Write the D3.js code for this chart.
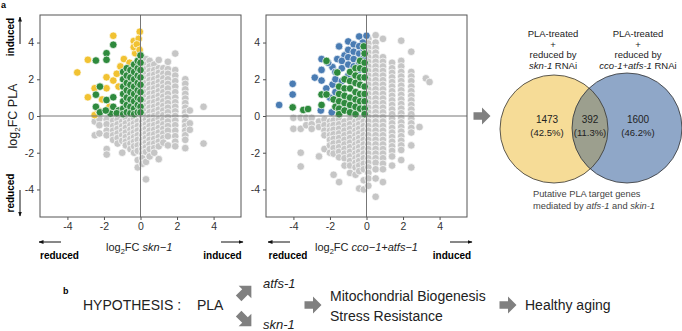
<!DOCTYPE html>
<html>
<head>
<meta charset="utf-8">
<script src="https://cdn.jsdelivr.net/npm/d3@7"></script>
<style>
  body { margin: 0; background: #fff; }
  svg { display: block; font-family: "Liberation Sans", Arial, sans-serif; }
</style>
</head>
<body>
<div id="chart"></div>
<script>
// ---- data ----
var ticks = [-4, -2, 0, 2, 4];

// panel 1: log2FC skn-1 vs log2FC PLA  (gray columns: [x, [y...]])
var gray1 = [
  [-2.5, [0.0, -0.3, -1.05]],
  [-2.25, [-0.15, -0.5, -0.95]],
  [-1.85, [-0.2, -0.45, -0.8, -1.05, -1.8, -2.1]],
  [-1.5, [-0.25, -0.55, -0.8, -1.05, -1.3]],
  [-1.25, [-0.2, -0.45, -0.7, -0.95, -1.2, -1.5]],
  [-1.0, [-0.3, -0.55, -0.8, -1.05, -1.35, -2.0]],
  [-0.8, [-0.15, -0.4, -0.65, -0.9, -1.15, -1.4, -1.6]],
  [-0.55, [-0.25, -0.5, -0.75, -1.0, -1.25, -1.5, -1.8]],
  [-0.35, [-0.15, -0.4, -0.65, -0.9, -1.15, -1.4, -1.65, -2.0]],
  [-0.15, [-0.3, -0.55, -0.8, -1.05, -1.3, -1.6, -1.9, -2.4, -2.8]],
  [0.1, [3.2, 2.95, 2.7, 2.45, 2.2, 1.95, 1.7, 1.45, 1.2, 0.95, 0.7, 0.45, 0.2, -0.05, -0.3, -0.55, -0.8, -1.05, -1.3, -1.55, -1.8, -2.05, -2.3, -2.6]],
  [0.3, [3.1, 2.8, 2.55, 2.3, 2.05, 1.8, 1.55, 1.3, 1.05, 0.8, 0.55, 0.3, 0.05, -0.2, -0.45, -0.7, -0.95, -1.2, -1.45, -1.7, -1.95, -2.5, -3.45]],
  [0.5, [3.0, 2.7, 2.45, 2.2, 1.95, 1.7, 1.45, 1.2, 0.95, 0.7, 0.45, 0.2, -0.05, -0.3, -0.55, -0.8, -1.05, -1.3, -1.55, -1.8, -2.2]],
  [0.75, [2.8, 2.5, 2.25, 2.0, 1.75, 1.5, 1.25, 1.0, 0.75, 0.5, 0.25, 0.0, -0.25, -0.5, -0.75, -1.0, -1.25, -1.5, -1.75, -2.0]],
  [1.0, [3.05, 2.6, 2.35, 2.1, 1.85, 1.6, 1.35, 1.1, 0.85, 0.6, 0.35, 0.1, -0.15, -0.4, -0.65, -0.9, -1.15, -1.4, -1.65, -2.35]],
  [1.25, [2.6, 2.3, 2.05, 1.8, 1.55, 1.3, 1.05, 0.8, 0.55, 0.3, 0.05, -0.2, -0.45, -0.7, -0.95, -1.2, -1.45]],
  [1.5, [2.95, 2.55, 2.3, 2.0, 1.75, 1.5, 1.2, 0.95, 0.7, 0.45, 0.2, -0.05, -0.3, -0.55, -0.8, -1.1, -1.6]],
  [1.9, [3.4, 2.5, 2.2, 1.9, 1.6, 1.3, 1.0, 0.75, 0.5, 0.25, 0.0, -0.25, -0.5, -0.8, -1.1, -1.4, -1.65]],
  [2.45, [2.0, 1.75, 1.45, 1.2, 0.95, 0.7, 0.45, 0.2, -0.05, -0.3, -0.55, -0.8, -1.05, -1.3, -1.75]],
  [2.7, [0.3, -0.4, -0.75]],
  [3.45, [0.5, -1.5]]
];
var yellow1 = [
  [-3.46, 2.37], [-2.88, 3.06], [-2.88, 1.02], [-1.49, 4.37], [-0.04, 4.59], [-0.37, 4.08],
  [-0.91, 3.1], [-1.86, 2.11], [-1.49, 1.93], [-1.86, 1.51], [-2.51, 1.51], [-2.51, 0.05],
  [-0.29, 3.42], [-0.37, 3.75], [-0.1, 4.2], [-0.2, 3.9], [-1.1, 2.7], [-1.3, 2.3],
  [-0.6, 2.9], [-2.3, 0.3], [-1.7, 0.5], [-2.1, 0.9], [-1.2, 1.6], [-0.05, 3.6]
];
var green1 = [
  [-1.49, 3.88], [-1.86, 3.42], [-1.86, 3.06], [-2.44, 3.02], [-2.22, 1.6], [-2.44, 1.16],
  [-1.86, 0.87], [-2.44, 0.5], [-1.49, 1.02], [-2.22, 0.2], [-1.64, 0.13], [-1.49, 0.5],
  [-1.2, 0.3], [-1.9, 0.3], [-1.3, 0.15],
  [-0.95, 2.4], [-0.95, 2.0], [-0.95, 1.6], [-0.95, 1.2], [-0.95, 0.8], [-0.95, 0.4], [-0.95, 0.1],
  [-0.75, 2.6], [-0.75, 2.2], [-0.75, 1.8], [-0.75, 1.4], [-0.75, 1.0], [-0.75, 0.6], [-0.75, 0.2],
  [-0.55, 2.5], [-0.55, 2.1], [-0.55, 1.7], [-0.55, 1.3], [-0.55, 0.9], [-0.55, 0.5], [-0.55, 0.15],
  [-0.35, 2.8], [-0.35, 2.4], [-0.35, 2.0], [-0.35, 1.6], [-0.35, 1.2], [-0.35, 0.8], [-0.35, 0.4], [-0.35, 0.1],
  [-0.15, 3.0], [-0.15, 2.6], [-0.15, 2.2], [-0.15, 1.8], [-0.15, 1.4], [-0.15, 1.0], [-0.15, 0.6], [-0.15, 0.2],
  [0, 3.3], [0, 2.9], [0, 2.5], [0, 2.1], [0, 1.7], [0, 1.3], [0, 0.9], [0, 0.5], [0, 0.2]
];

// panel 2: log2FC cco-1+atfs-1 vs log2FC PLA
var gray2 = [
  [-4.0, [-0.1, -0.7]],
  [-3.6, [-0.1, -0.7, -2.0, -2.75]],
  [-3.3, [-0.1, -0.5]],
  [-3.0, [-0.1, -0.45, -0.7]],
  [-2.6, [-0.3, -0.6, -2.2]],
  [-2.3, [-0.2, -0.5, -0.8, -1.05, -1.8]],
  [-2.0, [-0.3, -0.55, -0.8, -1.05, -1.3, -1.6, -2.0]],
  [-1.8, [-0.25, -0.5, -0.75, -1.0, -1.25, -1.5, -1.75, -2.05, -3.2]],
  [-1.5, [-0.2, -0.45, -0.7, -0.95, -1.2, -1.45, -1.7, -1.95, -2.25, -3.6]],
  [-1.2, [-0.3, -0.55, -0.8, -1.05, -1.3, -1.55, -1.8, -2.05, -2.3, -2.7]],
  [-0.9, [-0.2, -0.45, -0.7, -0.95, -1.2, -1.45, -1.7, -1.95, -2.2, -2.45, -2.7, -3.1]],
  [-0.6, [-0.3, -0.55, -0.8, -1.05, -1.3, -1.55, -1.8, -2.05, -2.3, -2.55, -2.8, -3.2]],
  [-0.4, [-0.2, -0.45, -0.7, -0.95, -1.2, -1.45, -1.7, -1.95, -2.2, -2.45, -2.7, -3.0, -3.95]],
  [-0.15, [-0.3, -0.55, -0.8, -1.05, -1.3, -1.55, -1.8, -2.05, -2.3, -2.6, -2.9, -3.5, -4.0]],
  [0.1, [4.2, 3.95, 3.7, 3.45, 3.2, 2.95, 2.7, 2.45, 2.2, 1.95, 1.7, 1.45, 1.2, 0.95, 0.7, 0.45, 0.2, -0.05, -0.3, -0.55, -0.8, -1.05, -1.3, -1.55, -1.8, -2.05, -2.3, -2.55, -2.8, -3.1, -3.4, -3.8]],
  [0.5, [4.4, 4.0, 3.7, 3.45, 3.2, 2.95, 2.7, 2.45, 2.2, 1.95, 1.7, 1.45, 1.2, 0.95, 0.7, 0.45, 0.2, -0.05, -0.3, -0.55, -0.8, -1.05, -1.3, -1.55, -1.8, -2.05, -2.3, -2.55, -2.9, -3.4, -4.4]],
  [0.9, [4.2, 3.2, 2.95, 2.7, 2.45, 2.2, 1.95, 1.7, 1.45, 1.2, 0.95, 0.7, 0.45, 0.2, -0.05, -0.3, -0.55, -0.8, -1.05, -1.3, -1.55, -1.8, -2.05, -2.3, -2.6, -2.9, -3.6]],
  [1.4, [2.9, 2.6, 2.35, 2.1, 1.85, 1.6, 1.35, 1.1, 0.85, 0.6, 0.35, 0.1, -0.15, -0.4, -0.65, -0.9, -1.15, -1.4, -1.65, -1.9, -2.2, -2.7]],
  [1.9, [4.1, 3.0, 2.7, 2.4, 2.15, 1.9, 1.65, 1.4, 1.15, 0.9, 0.65, 0.4, 0.15, -0.1, -0.35, -0.6, -0.85, -1.1, -1.35, -1.6, -1.85, -2.4]],
  [2.45, [3.5, 2.4, 2.15, 1.9, 1.6, 1.35, 1.1, 0.85, 0.6, 0.35, 0.1, -0.15, -0.4, -0.65, -0.9, -1.6, -2.8]],
  [2.9, [-0.6]],
  [3.25, [2.05]],
  [3.45, [1.85]]
];
var blue2 = [
  [-4.78, 0.6], [-4.04, 1.75], [-4.04, 1.17], [-2.46, 3.1], [-2.83, 2.09], [-2.46, 2.51],
  [-2.46, 1.93], [-1.86, 2.66], [-1.5, 3.79], [-1.0, 4.06], [-0.4, 4.33], [0, 4.37],
  [-1.86, 1.71], [-2.2, 1.5], [-2.0, 1.0], [-1.2, 3.3], [-0.7, 3.9], [-0.2, 4.0],
  [-1.6, 3.1], [-2.1, 2.9], [-2.5, 0.3], [-1.9, 0.2],
  [-1.7, 2.4], [-1.7, 2.0], [-1.7, 1.3], [-1.7, 0.5],
  [-1.35, 3.0], [-1.35, 2.6], [-1.35, 1.9], [-1.35, 0.4],
  [-1.0, 3.6], [-1.0, 3.2], [-1.0, 2.8], [-1.0, 2.2], [-1.0, 0.3],
  [-0.7, 3.5], [-0.7, 3.1], [-0.7, 2.7], [-0.7, 2.3],
  [-0.4, 3.8], [-0.4, 3.4], [-0.4, 2.9], [-0.4, 2.5],
  [-0.15, 3.6], [-0.15, 3.2], [-0.15, 2.7], [-0.15, 1.0]
];
var green2 = [
  [-4.04, 0.47], [-3.46, 0.33], [-3.2, 0.38], [-2.46, 0.6], [-2.19, 3.0], [-2.46, 1.17],
  [-2.19, 1.17], [-1.6, 2.37], [-0.15, 3.79], [-1.8, 0.9], [-1.7, 0.5],
  [-1.5, 1.6], [-1.5, 1.2], [-1.5, 0.8], [-1.5, 0.4], [-1.5, 0.1],
  [-1.2, 2.0], [-1.2, 1.5], [-1.2, 1.1], [-1.2, 0.7], [-1.2, 0.3],
  [-0.9, 2.4], [-0.9, 1.9], [-0.9, 1.5], [-0.9, 1.0], [-0.9, 0.6], [-0.9, 0.2],
  [-0.6, 2.6], [-0.6, 2.2], [-0.6, 1.8], [-0.6, 1.3], [-0.6, 0.9], [-0.6, 0.5], [-0.6, 0.1],
  [-0.35, 3.0], [-0.35, 2.6], [-0.35, 2.1], [-0.35, 1.7], [-0.35, 1.2], [-0.35, 0.8], [-0.35, 0.4],
  [-0.1, 3.4], [-0.1, 2.9], [-0.1, 2.5], [-0.1, 2.1], [-0.1, 1.6], [-0.1, 1.2], [-0.1, 0.8], [-0.1, 0.4], [-0.1, 0.1]
];

// venn
var vennCounts = [1473, 392, 1600];
var vennPcts = ["(42.5%)", "(11.3%)", "(46.2%)"];

// ---- drawing ----
var W = 682, H = 331;
var svg = d3.select("#chart").append("svg").attr("width", W).attr("height", H);

var cGray = "#c6c6c6", cYellow = "#f1c232", cGreen = "#2e8a3d", cBlue = "#4a7cb3";

function flatCols(cols) {
  var out = [];
  cols.forEach(function(c) { c[1].forEach(function(v) { out.push([c[0], v]); }); });
  return out;
}

function drawPanel(left, right, grayCols, layers) {
  var x = d3.scaleLinear().domain([-5.5, 5.5]).range([left, right]);
  var y = d3.scaleLinear().domain([-5.5, 5.5]).range([217, 15]);
  var g = svg.append("g");

  var xa = g.append("g").attr("transform", "translate(0,217)")
    .call(d3.axisBottom(x).tickValues(ticks).tickSize(3).tickFormat(function(d) { return String(d); }));
  var ya = g.append("g").attr("transform", "translate(" + left + ",0)")
    .call(d3.axisLeft(y).tickValues(ticks).tickSize(3).tickFormat(function(d) { return String(d); }));
  [xa, ya].forEach(function(a) {
    a.select(".domain").remove();
    a.selectAll("line").attr("stroke", "#555");
    a.selectAll("text").attr("fill", "#333").style("font-size", "10.5px")
      .style("font-family", "Liberation Sans, Arial, sans-serif");
  });

  var all = [{ pts: flatCols(grayCols), col: cGray }].concat(layers);
  all.forEach(function(l) {
    g.append("g").selectAll("circle").data(l.pts).enter().append("circle")
      .attr("cx", function(d) { return x(d[0]); })
      .attr("cy", function(d) { return y(d[1]); })
      .attr("r", 3.8)
      .attr("fill", l.col)
      .attr("stroke", "#fff")
      .attr("stroke-width", 0.7);
  });

  // zero lines
  g.append("line").attr("x1", left).attr("x2", right).attr("y1", y(0)).attr("y2", y(0))
    .attr("stroke", "#777").attr("stroke-width", 1);
  g.append("line").attr("x1", x(0)).attr("x2", x(0)).attr("y1", 15).attr("y2", 217)
    .attr("stroke", "#777").attr("stroke-width", 1);
  g.append("rect").attr("x", left).attr("y", 15).attr("width", right - left).attr("height", 202)
    .attr("fill", "none").attr("stroke", "#555").attr("stroke-width", 1);
}

drawPanel(40, 241, gray1, [{ pts: yellow1, col: cYellow }, { pts: green1, col: cGreen }]);
drawPanel(266, 467, gray2, [{ pts: blue2, col: cBlue }, { pts: green2, col: cGreen }]);

// arrow marker
var defs = svg.append("defs");
defs.append("marker").attr("id", "ah").attr("viewBox", "0 0 10 10")
  .attr("refX", 9).attr("refY", 5).attr("markerWidth", 5).attr("markerHeight", 5)
  .attr("orient", "auto")
  .append("path").attr("d", "M0,1 L10,5 L0,9 Z").attr("fill", "#111");

function thinArrow(x1, y1, x2, y2) {
  svg.append("line").attr("x1", x1).attr("y1", y1).attr("x2", x2).attr("y2", y2)
    .attr("stroke", "#111").attr("stroke-width", 1).attr("marker-end", "url(#ah)");
}

// label "a"
svg.append("text").attr("x", 1).attr("y", 8).text("a")
  .style("font-size", "9px").style("font-weight", "bold");

// y axis title panel 1
var yt = svg.append("text").attr("transform", "translate(17,116) rotate(-90)")
  .attr("text-anchor", "middle").style("font-size", "12.5px").attr("fill", "#222");
yt.append("tspan").text("log");
yt.append("tspan").text("2").attr("dy", 3).style("font-size", "8px");
yt.append("tspan").text("FC PLA").attr("dy", -3);

svg.append("text").attr("transform", "translate(14,37) rotate(-90)").attr("text-anchor", "middle")
  .style("font-size", "10px").style("font-weight", "bold").text("induced");
thinArrow(20, 44, 20, 17);
svg.append("text").attr("transform", "translate(14,193) rotate(-90)").attr("text-anchor", "middle")
  .style("font-size", "10px").style("font-weight", "bold").text("reduced");
thinArrow(20, 190, 20, 216);

// x axis titles
function xTitle(xpos, gene) {
  var t = svg.append("text").attr("x", xpos).attr("y", 251).style("font-size", "11px").attr("fill", "#222");
  t.append("tspan").text("log");
  t.append("tspan").text("2").attr("dy", 3).style("font-size", "7.5px");
  t.append("tspan").text("FC ").attr("dy", -3);
  t.append("tspan").text(gene).style("font-style", "italic");
}
xTitle(106, "skn\u22121");
xTitle(315, "cco\u22121+atfs\u22121");

function sideLabel(x0, x1, txt, dir) {
  svg.append("text").attr("x", (x0 + x1) / 2).attr("y", 259).attr("text-anchor", "middle")
    .style("font-size", "10px").style("font-weight", "bold").text(txt);
  if (dir < 0) thinArrow(x0 + 22, 242, x0, 242);
  else thinArrow(x1 - 22, 242, x1, 242);
}
sideLabel(39, 80, "reduced", -1);
sideLabel(202, 243, "induced", 1);
sideLabel(268, 308, "reduced", -1);
sideLabel(432, 472, "induced", 1);

// block arrow (pointing right, rotated by angle)
function blockArrow(cx, cy, size, angle) {
  var s = size / 16;
  var d = "M" + (-8 * s) + "," + (-3.5 * s) + " L0," + (-3.5 * s) +
    " L0," + (-8 * s) + " L" + (8 * s) + ",0 L0," + (8 * s) + " L0," + (3.5 * s) +
    " L" + (-8 * s) + "," + (3.5 * s) + " Z";
  svg.append("path").attr("d", d).attr("fill", "#808080")
    .attr("transform", "translate(" + cx + "," + cy + ") rotate(" + angle + ")");
}

blockArrow(482, 116, 17, 0);

// venn
var vg = svg.append("g");
var cy1 = 129, cx1 = 554, r1 = 54, cx2 = 627, cy2 = 128, r2 = 55;
defs.append("clipPath").attr("id", "clipY").append("circle").attr("cx", cx1).attr("cy", cy1).attr("r", r1);
vg.append("circle").attr("cx", cx1).attr("cy", cy1).attr("r", r1).attr("fill", "#f6dc97");
vg.append("circle").attr("cx", cx2).attr("cy", cy2).attr("r", r2).attr("fill", "#8fa7c8");
vg.append("circle").attr("cx", cx2).attr("cy", cy2).attr("r", r2).attr("fill", "#9c9f8e")
  .attr("clip-path", "url(#clipY)");
vg.append("circle").attr("cx", cx1).attr("cy", cy1).attr("r", r1).attr("fill", "none").attr("stroke", "#333").attr("stroke-width", 0.8);
vg.append("circle").attr("cx", cx2).attr("cy", cy2).attr("r", r2).attr("fill", "none").attr("stroke", "#333").attr("stroke-width", 0.8);

var vennX = [547, 590, 638];
vennCounts.forEach(function(v, i) {
  vg.append("text").attr("x", vennX[i]).attr("y", 123).attr("text-anchor", "middle")
    .style("font-size", "10px").attr("fill", "#222").text(v);
  vg.append("text").attr("x", vennX[i]).attr("y", 136).attr("text-anchor", "middle")
    .style("font-size", "9.5px").attr("fill", "#222").text(vennPcts[i]);
});

function vennHead(xpos, gene) {
  var lines = ["PLA-treated", "+", "reduced by"];
  lines.forEach(function(l, i) {
    svg.append("text").attr("x", xpos).attr("y", 37 + i * 10.7).attr("text-anchor", "middle")
      .style("font-size", "9.5px").attr("fill", "#222").text(l);
  });
  var t = svg.append("text").attr("x", xpos).attr("y", 69).attr("text-anchor", "middle")
    .style("font-size", "9.5px").attr("fill", "#222");
  t.append("tspan").text(gene).style("font-style", "italic");
  t.append("tspan").text(" RNAi");
}
vennHead(553, "skn-1");
vennHead(638, "cco-1+atfs-1");

svg.append("text").attr("x", 533).attr("y", 197).style("font-size", "9.3px").attr("fill", "#444")
  .text("Putative PLA target genes");
var pt = svg.append("text").attr("x", 533).attr("y", 209).style("font-size", "9.3px").attr("fill", "#444");
pt.append("tspan").text("mediated by ");
pt.append("tspan").text("atfs-1").style("font-style", "italic");
pt.append("tspan").text(" and ");
pt.append("tspan").text("skin-1").style("font-style", "italic");

// part b
svg.append("text").attr("x", 63).attr("y", 294).style("font-size", "9px").style("font-weight", "bold").text("b");
svg.append("text").attr("x", 83).attr("y", 310).style("font-size", "14px").attr("fill", "#222").text("HYPOTHESIS :");
svg.append("text").attr("x", 197).attr("y", 310).style("font-size", "14px").attr("fill", "#222").text("PLA");
blockArrow(245, 292, 18, -45);
blockArrow(245, 320, 18, 45);
svg.append("text").attr("x", 263).attr("y", 288).style("font-size", "13px").style("font-style", "italic").attr("fill", "#222").text("atfs-1");
svg.append("text").attr("x", 263).attr("y", 329).style("font-size", "13px").style("font-style", "italic").attr("fill", "#222").text("skn-1");
blockArrow(313, 305, 17, 0);
svg.append("text").attr("x", 330).attr("y", 301).style("font-size", "14px").attr("fill", "#222").text("Mitochondrial Biogenesis");
svg.append("text").attr("x", 330).attr("y", 321).style("font-size", "14px").attr("fill", "#222").text("Stress Resistance");
blockArrow(508, 305, 17, 0);
svg.append("text").attr("x", 525).attr("y", 310).style("font-size", "14px").attr("fill", "#222").text("Healthy aging");
</script>
</body>
</html>
